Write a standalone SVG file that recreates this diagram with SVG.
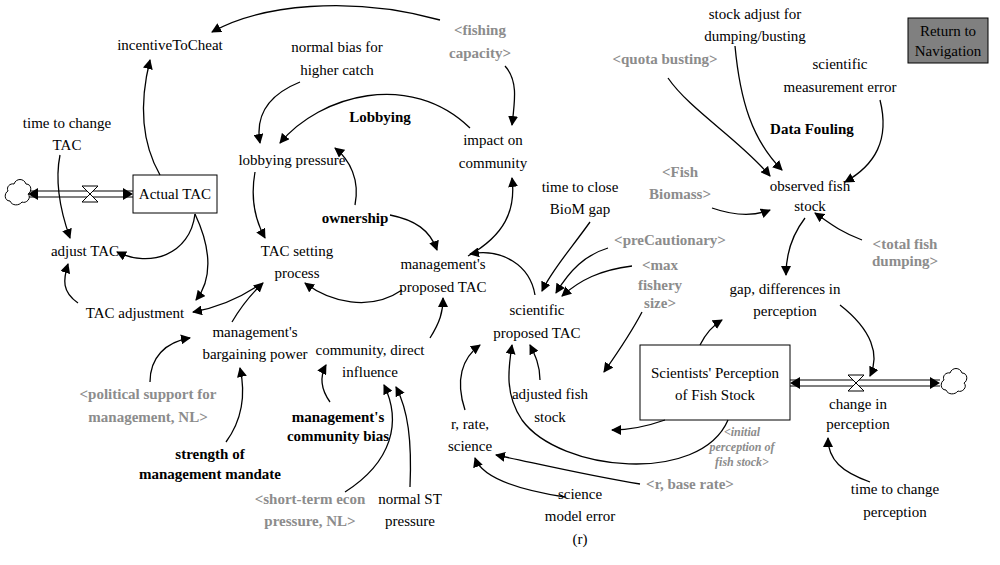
<svg xmlns="http://www.w3.org/2000/svg" width="1000" height="565" viewBox="0 0 1000 565">
<style>
text{font-family:"Liberation Serif","Times New Roman",serif;font-size:15px;fill:#000;text-anchor:middle}
.g{fill:#8c8c8c;font-weight:bold}
.b{font-weight:bold}
.i{fill:#8c8c8c;font-style:italic;font-weight:bold;font-size:12px}
.c path{fill:none;stroke:#000;stroke-width:1.3}
.box{fill:#fff;stroke:#000;stroke-width:1}
.pipe{stroke:#000;stroke-width:1.2;fill:none}
</style>
<defs>
<marker id="a" viewBox="0 0 10 10" refX="9" refY="5" markerWidth="10" markerHeight="10" markerUnits="userSpaceOnUse" orient="auto"><path d="M0,0L10,5L0,10z" fill="#000"/></marker>
</defs>
<rect width="1000" height="565" fill="#fff"/>
<g id="pipes">
<path class="pipe" d="M28,191H133M28,197H133"/>
<path d="M28,194l10,-6v12z M133,194l-10,-6v12z"/>
<path class="pipe" d="M790,380H940M790,386H940"/>
<path d="M790,383l10,-6v12z M940,383l-10,-6v12z"/>
<path d="M82,186L98,186L82,202L98,202z M848,375L864,375L848,391L864,391z" fill="#fff" stroke="#000"/>
<path d="M14,184c2,-6 10,-6 12,0c6,0 6,8 2,10c4,4 -2,10 -6,8c-3,4 -10,4 -12,-1c-6,0 -6,-8 -2,-10c-2,-4 2,-8 6,-7z" fill="#fff" stroke="#000"/>
<path d="M950,373c2,-6 10,-6 12,0c6,0 6,8 2,10c4,4 -2,10 -6,8c-3,4 -10,4 -12,-1c-6,0 -6,-8 -2,-10c-2,-4 2,-8 6,-7z" fill="#fff" stroke="#000"/>
</g>
<g id="nodes">
<g id="actualTAC"><rect class="box" x="133" y="175" width="84" height="38"/><text x="175" y="199">Actual TAC</text></g>
<g id="scientists"><rect class="box" x="640" y="345" width="150" height="75"/><text x="715" y="378">Scientists' Perception</text><text x="715" y="400">of Fish Stock</text></g>
<g id="nav"><rect x="908" y="18" width="80" height="45" fill="#808080" stroke="#000"/><text x="948" y="36">Return to</text><text x="948" y="56">Navigation</text></g>
<g id="incentive"><text x="170" y="50">incentiveToCheat</text></g>
<g id="fishcap"><text class="g" x="480" y="35">&lt;fishing</text><text class="g" x="480" y="58">capacity&gt;</text></g>
<g id="normalbias"><text x="337" y="52">normal bias for</text><text x="337" y="75">higher catch</text></g>
<g id="lobbying"><text class="b" x="380" y="122">Lobbying</text></g>
<g id="impact"><text x="493" y="145">impact on</text><text x="493" y="168">community</text></g>
<g id="ttcTAC"><text x="67" y="128">time to change</text><text x="67" y="150">TAC</text></g>
<g id="lobbyp"><text x="292" y="165">lobbying pressure</text></g>
<g id="adjTAC"><text x="85" y="256">adjust TAC</text></g>
<g id="ownership"><text class="b" x="355" y="223">ownership</text></g>
<g id="tacsp"><text x="297" y="256">TAC setting</text><text x="297" y="278">process</text></g>
<g id="mpt"><text x="443" y="269">management's</text><text x="443" y="292">proposed TAC</text></g>
<g id="ttc"><text x="580" y="192">time to close</text><text x="580" y="214">BioM gap</text></g>
<g id="prec"><text class="g" x="670" y="245">&lt;preCautionary&gt;</text></g>
<g id="maxf"><text class="g" x="660" y="270">&lt;max</text><text class="g" x="660" y="290">fishery</text><text class="g" x="660" y="308">size&gt;</text></g>
<g id="tacadj"><text x="135" y="318">TAC adjustment</text></g>
<g id="mbp"><text x="255" y="337">management's</text><text x="255" y="359">bargaining power</text></g>
<g id="cdi"><text x="370" y="355">community, direct</text><text x="370" y="377">influence</text></g>
<g id="spt"><text x="537" y="315">scientific</text><text x="537" y="338">proposed TAC</text></g>
<g id="pol"><text class="g" x="148" y="399">&lt;political support for</text><text class="g" x="148" y="422">management, NL&gt;</text></g>
<g id="strength"><text class="b" x="210" y="459">strength of</text><text class="b" x="210" y="479">management mandate</text></g>
<g id="mcb"><text class="b" x="338" y="422">management's</text><text class="b" x="338" y="441">community bias</text></g>
<g id="afs"><text x="550" y="399">adjusted fish</text><text x="550" y="422">stock</text></g>
<g id="rrs"><text x="470" y="429">r, rate,</text><text x="470" y="451">science</text></g>
<g id="ste"><text class="g" x="310" y="504">&lt;short-term econ</text><text class="g" x="310" y="526">pressure, NL&gt;</text></g>
<g id="nst"><text x="410" y="504">normal ST</text><text x="410" y="526">pressure</text></g>
<g id="sme"><text x="580" y="499">science</text><text x="580" y="521">model error</text><text x="580" y="544">(r)</text></g>
<g id="rbase"><text class="g" x="690" y="489">&lt;r, base rate&gt;</text></g>
<g id="cip"><text x="858" y="409">change in</text><text x="858" y="429">perception</text></g>
<g id="ipf"><text class="i" x="742" y="436">&lt;initial</text><text class="i" x="742" y="451">perception of</text><text class="i" x="742" y="466">fish stock&gt;</text></g>
<g id="ttcp"><text x="895" y="494">time to change</text><text x="895" y="517">perception</text></g>
<g id="gap"><text x="785" y="294">gap, differences in</text><text x="785" y="316">perception</text></g>
<g id="tfd"><text class="g" x="905" y="249">&lt;total fish</text><text class="g" x="905" y="266">dumping&gt;</text></g>
<g id="ofs"><text x="810" y="191">observed fish</text><text x="810" y="211">stock</text></g>
<g id="fb"><text class="g" x="680" y="177">&lt;Fish</text><text class="g" x="680" y="199">Biomass&gt;</text></g>
<g id="qb"><text class="g" x="665" y="64">&lt;quota busting&gt;</text></g>
<g id="sadj"><text x="755" y="19">stock adjust for</text><text x="755" y="41">dumping/busting</text></g>
<g id="smerr"><text x="840" y="69">scientific</text><text x="840" y="92">measurement error</text></g>
<g id="df"><text class="b" x="812" y="134">Data Fouling</text></g>
</g>
<g class="c" id="connectors" marker-end="url(#a)">
<path marker-end="url(#a)" d="M160,175C140,140 140,100 150,60"/>
<path marker-end="url(#a)" d="M440,20C350,-5 260,5 212,32"/>
<path marker-end="url(#a)" d="M505,66C518,80 515,100 512,125"/>
<path marker-end="url(#a)" d="M300,82C268,95 255,115 260,143"/>
<path marker-end="url(#a)" d="M470,128C410,70 320,95 280,143"/>
<path marker-end="url(#a)" d="M355,205C360,180 350,160 335,148"/>
<path marker-end="url(#a)" d="M390,215C415,220 430,230 437,250"/>
<path marker-end="url(#a)" d="M60,155C55,180 60,210 70,238"/>
<path marker-end="url(#a)" d="M195,214C190,255 150,268 117,252"/>
<path marker-end="url(#a)" d="M195,214C212,250 212,280 196,300"/>
<path marker-end="url(#a)" d="M255,172C250,200 255,220 265,238"/>
<path marker-end="url(#a)" d="M78,303C62,292 63,280 68,264"/>
<path marker-end="url(#a)" d="M232,322C242,305 250,295 263,283"/>
<path marker-end="url(#a)" d="M256,287C236,300 215,308 193,312"/>
<path marker-end="url(#a)" d="M402,290C370,312 330,302 305,283"/>
<path marker-end="url(#a)" d="M430,338C440,322 443,312 443,298"/>
<path marker-end="url(#a)" d="M468,256C505,235 516,210 512,178"/>
<path marker-end="url(#a)" d="M535,295C530,265 502,248 470,254"/>
<path marker-end="url(#a)" d="M590,222C570,250 552,270 542,291"/>
<path marker-end="url(#a)" d="M608,248C585,255 570,270 556,293"/>
<path marker-end="url(#a)" d="M632,266C600,270 580,280 562,296"/>
<path marker-end="url(#a)" d="M540,380C540,365 535,355 530,345"/>
<path marker-end="url(#a)" d="M465,410C455,380 462,358 480,345"/>
<path marker-end="url(#a)" d="M728,420C700,485 560,472 522,420C505,395 508,370 512,345"/>
<path marker-end="url(#a)" d="M642,312C630,335 618,352 604,372"/>
<path marker-end="url(#a)" d="M665,420C648,426 632,430 612,430"/>
<path marker-end="url(#a)" d="M700,345C705,335 712,326 722,320"/>
<path marker-end="url(#a)" d="M840,305C872,330 880,355 870,376"/>
<path marker-end="url(#a)" d="M805,218C792,235 786,255 786,275"/>
<path marker-end="url(#a)" d="M862,240C840,232 828,222 815,213"/>
<path marker-end="url(#a)" d="M712,208C735,216 755,216 770,210"/>
<path marker-end="url(#a)" d="M668,78C690,110 740,140 770,176"/>
<path marker-end="url(#a)" d="M735,46C740,100 752,140 782,170"/>
<path marker-end="url(#a)" d="M880,100C890,140 875,165 845,182"/>
<path marker-end="url(#a)" d="M870,482C842,472 828,460 828,438"/>
<path marker-end="url(#a)" d="M640,484C590,476 548,466 496,455"/>
<path marker-end="url(#a)" d="M565,497C520,490 482,478 475,458"/>
<path marker-end="url(#a)" d="M410,487C412,440 408,410 396,387"/>
<path marker-end="url(#a)" d="M345,492C392,462 402,422 384,385"/>
<path marker-end="url(#a)" d="M330,402C320,388 320,376 326,365"/>
<path marker-end="url(#a)" d="M150,382C150,358 165,342 190,338"/>
<path marker-end="url(#a)" d="M226,442C242,420 246,395 240,368"/>
</g>
</svg>
